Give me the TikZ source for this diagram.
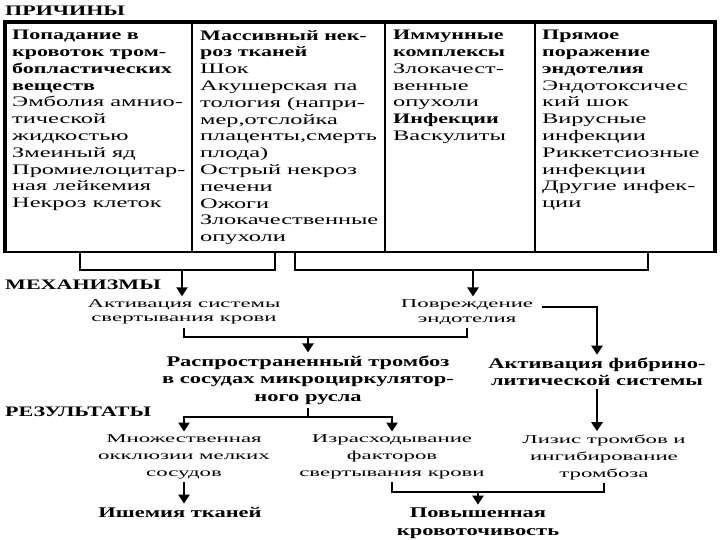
\documentclass[tikz,border=0pt]{standalone}
\usepackage{fontspec}
\setmainfont{Liberation Serif}[UprightFeatures = {FakeStretch = 1.68}, BoldFeatures = {FakeStretch = 1.52}]
\newfontfamily\flowfont{Liberation Serif}[FakeStretch = 1.9]
\usetikzlibrary{arrows.meta}

\begin{document}
\begin{tikzpicture}[x = 1pt, y = -1pt, > = {Triangle[width = 11pt, length = 9pt]},
	head/.style = {font = \bfseries\fontsize{14.5}{17}\selectfont, anchor = west, inner sep = 0pt},
	col/.style = {font = \fontsize{14.5}{16.8}\selectfont, align = left, anchor = north west, inner sep = 0pt},
	flow/.style = {font = \flowfont\fontsize{12}{17}\selectfont, align = center, inner sep = 3pt},
	flowtight/.style = {flow, font = \flowfont\fontsize{12}{14.5}\selectfont},
	bflow/.style = {font = \bfseries\fontsize{14.8}{17.5}\selectfont, align = center, inner sep = 3pt},
	wire/.style = {line width = 2.6pt},
	arr/.style = {wire, ->}]

	\useasboundingbox (0, 0) rectangle (720, 540);

	% Table of causes

	\node [head] (prich) at (5, 11) {ПРИЧИНЫ};

	\draw [line width = 2pt] (192, 22) -- (192, 252);
	\draw [line width = 2pt] (385, 22) -- (385, 252);
	\draw [line width = 2pt] (535, 22) -- (535, 252);
	\draw [line width = 2.6pt] (5, 252) -- (715, 252);
	\draw [line width = 4.5pt] (5, 253.3) |- (715, 22) -- (715, 253.3);

	\node [col] (c1) at (12, 30) {\textbf{Попадание в}\\ \textbf{кровоток тром-}\\ \textbf{бопластических}\\ \textbf{веществ}\\
		Эмболия амнио-\\ тической\\ жидкостью\\ Змеиный яд\\ Промиелоцитар-\\ ная лейкемия\\ Некроз клеток};
	\node [col] (c2) at (200, 30) {\textbf{Массивный нек-}\\ \textbf{роз тканей}\\ Шок\\ Акушерская па\\ тология (напри-\\
		мер,отслойка\\ плаценты,смерть\\ плода)\\ Острый некроз\\ печени\\ Ожоги\\ Злокачественные\\ опухоли};
	\node [col] (c3) at (393, 30) {\textbf{Иммунные}\\ \textbf{комплексы}\\ Злокачест-\\ венные\\ опухоли\\
		\textbf{Инфекции}\\ Васкулиты};
	\node [col] (c4) at (542, 30) {\textbf{Прямое}\\ \textbf{поражение}\\ \textbf{эндотелия}\\ Эндотоксичес\\ кий шок\\
		Вирусные\\ инфекции\\ Риккетсиозные\\ инфекции\\ Другие инфек-\\ ции};

	% Mechanisms

	\node [head] (mech) at (5, 285) {МЕХАНИЗМЫ};

	\node [flowtight] (akt) at (184, 312) {Активация системы\\ свертывания крови};
	\node [flowtight] (povr) at (467, 312) {Повреждение\\ эндотелия};
	\node [bflow] (tromb) at (308, 380) {Распространенный тромбоз\\ в сосудах микроциркулятор-\\ ного русла};
	\node [bflow] (fibr) at (597, 372) {Активация фибрино-\\ литической системы};

	\coordinate (b1) at (182, 270);
	\coordinate (b2) at (473, 270);
	\coordinate (m1) at (308, 337);

	\draw [wire] (80, 252) |- (b1) -| (275, 252);
	\draw [wire] (295, 252) |- (b2) -| (648, 252);
	\draw [arr] (b1) -- (b1 |- akt.north);
	\draw [arr] (b2) -- (b2 |- povr.north);

	\draw [wire] (akt.south) |- (m1) -| (povr.south);
	\draw [arr] (m1) -- (m1 |- tromb.north);
	\draw [arr] ([shift = {(6, -5)}] povr.east) -| (fibr.north);

	% Results

	\node [head] (rez) at (5, 412) {РЕЗУЛЬТАТЫ};

	\node [flow] (mnozh) at (184, 457) {Множественная\\ окклюзии мелких\\ сосудов};
	\node [flow] (izr) at (392, 457) {Израсходывание\\ факторов\\ свертывания крови};
	\node [flow] (lizis) at (604, 457) {Лизис тромбов и\\ ингибирование\\ тромбоза};
	\node [bflow] (ishem) at (180, 512) {Ишемия тканей};
	\node [bflow] (krov) at (478, 523) {Повышенная\\ кровоточивость};

	\coordinate (r1) at (tromb.south |- 0, 417);
	\coordinate (k1) at (478, 492);

	\draw [wire] (tromb.south) -- (r1);
	\draw [arr] (r1) -| (mnozh.north);
	\draw [arr] (r1) -| (izr.north);
	\draw [arr] (fibr.south) -- (fibr.south |- lizis.north);
	\draw [arr] (mnozh.south) -- (mnozh.south |- ishem.north);
	\draw [wire] (izr.south) |- (k1) -| (lizis.south);
	\draw [arr] (k1) -- (krov.north);

\end{tikzpicture}
\end{document}
